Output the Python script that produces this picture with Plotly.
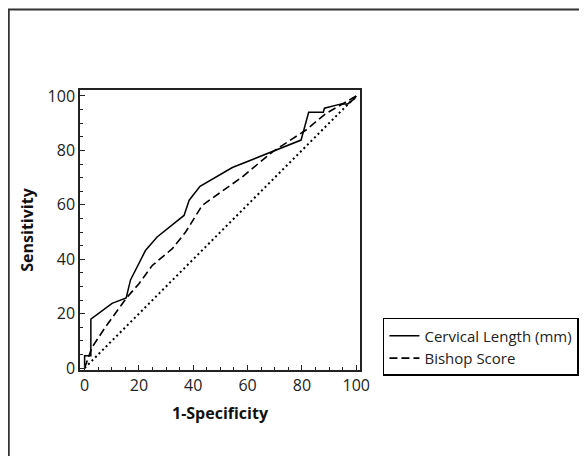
import plotly.graph_objects as go

# Cervical length ROC (1-specificity, sensitivity)
cl_x = [0, 0, 0, 2.3, 2.3, 10.1, 15.3, 16.9, 19.5, 22.4, 26.7, 36.6, 38.5, 42.5, 54.4, 69.2, 79.7, 82.5, 87.9, 88.3, 94.5, 96.9, 99.4, 100]
cl_y = [0, 1, 4.5, 4.5, 18.0, 23.8, 25.8, 32.4, 37.5, 43.2, 48.2, 56.1, 61.7, 66.8, 73.7, 79.5, 83.8, 94.0, 94.0, 95.5, 97.1, 97.1, 99.0, 100]

# Bishop score ROC
bs_x = [0, 2.7, 7.6, 15.6, 20.0, 24.9, 32.3, 37.2, 43.3, 58.1, 69.2, 81.5, 88.9, 95.1, 100]
bs_y = [0, 7.6, 15.0, 26.0, 31.0, 37.7, 43.9, 50.0, 59.8, 70.3, 79.5, 87.5, 93.6, 97.3, 100]

# reference diagonal
ref_x = [0, 100]
ref_y = [0, 100]

tick_vals = [0, 20, 40, 60, 80, 100]

FONT = "Open Sans"
L, T, W, H = 72, 82, 280, 280  # plot area in figure pixels (page adds 8px body margin)

fig = go.Figure()
fig.add_trace(go.Scatter(x=cl_x, y=cl_y, mode="lines", name="Cervical Length (mm)",
                         line=dict(color="black", width=1.5)))
fig.add_trace(go.Scatter(x=bs_x, y=bs_y, mode="lines", name="Bishop Score",
                         line=dict(color="black", width=1.6, dash="8px,4px")))
fig.add_trace(go.Scatter(x=ref_x, y=ref_y, mode="lines", showlegend=False,
                         line=dict(color="black", width=2, dash="2px,3px")))

axis_common = dict(
    showgrid=False, zeroline=False, showline=True, linecolor="#222", linewidth=1.5,
    mirror=True, ticks="inside", ticklen=5, tickwidth=1.2, tickcolor="#222",
    tickvals=tick_vals, tickfont=dict(family=FONT, size=16, color="#222"),
    minor=dict(dtick=5, ticks="inside", ticklen=3, tickwidth=1, tickcolor="#222"),
)

fig.update_xaxes(range=[-1.7, 101.4],
                 title=dict(text="<b>1-Specificity</b>", font=dict(family=FONT, size=16, color="#111"), standoff=13),
                 **axis_common)
fig.update_yaxes(range=[-0.7, 102.2],
                 title=dict(text="<b>Sensitivity</b>", font=dict(family=FONT, size=16, color="#111"), standoff=10),
                 **axis_common)

def px_x(v):
    return (v - L) / W

def px_y(v):
    return (T + H - v) / H

fig.update_layout(
    width=587, height=456,
    margin=dict(l=L, r=587 - L - W, t=T, b=456 - T - H),
    plot_bgcolor="white", paper_bgcolor="white",
    font=dict(family=FONT, size=16, color="#222"),
    legend=dict(x=1.082, y=0.186, xanchor="left", yanchor="top",
                bordercolor="black", borderwidth=1.5, bgcolor="white",
                font=dict(family=FONT, size=15, color="#222"),
                tracegroupgap=0, itemwidth=30),
    shapes=[dict(type="rect", xref="paper", yref="paper",
                 x0=px_x(0.75), x1=px_x(578), y0=px_y(470), y1=px_y(1.5),
                 line=dict(color="#333", width=2), layer="below")],
)

fig.write_html("out.html")
